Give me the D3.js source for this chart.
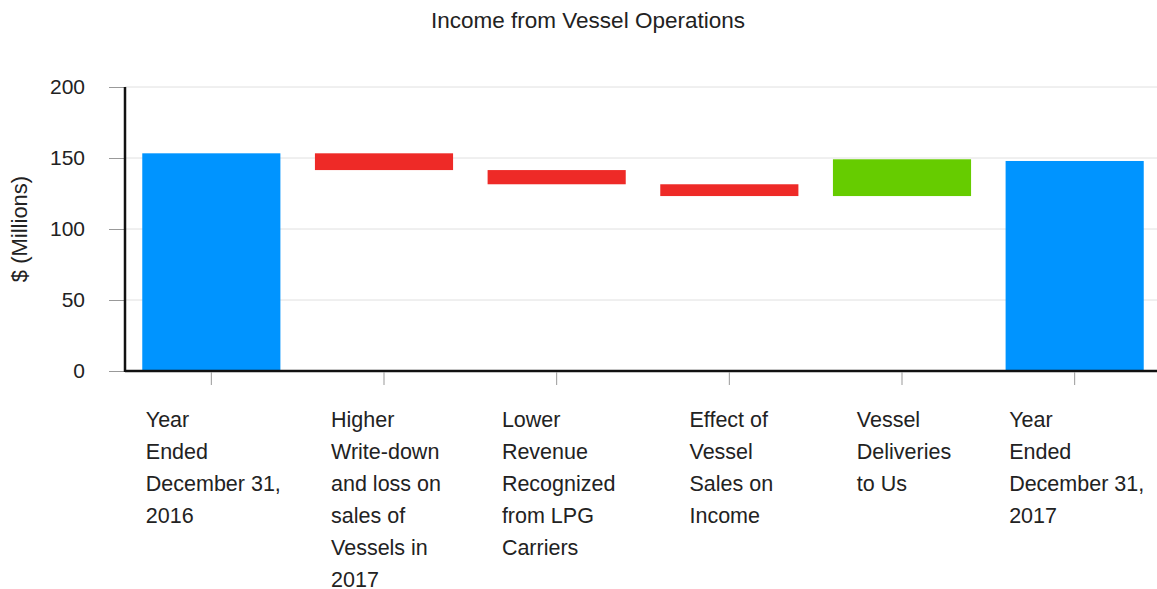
<!DOCTYPE html>
<html>
<head>
<meta charset="utf-8">
<script src="https://cdn.jsdelivr.net/npm/d3@7"></script>
<style>
  body { margin: 0; background: #fff; }
  text { font-family: "Liberation Sans", Arial, sans-serif; fill: #222; }
</style>
</head>
<body>
<div id="chart"></div>
<script>
const categories = [
    "Year Ended December 31, 2016",
    "Higher Write-down and loss on sales of Vessels in 2017",
    "Lower Revenue Recognized from LPG Carriers",
    "Effect of Vessel Sales on Income",
    "Vessel Deliveries to Us",
    "Year Ended December 31, 2017"
];
const tickLines = [
    ["Year", "Ended", "December 31,", "2016"],
    ["Higher", "Write-down", "and loss on", "sales of", "Vessels in", "2017"],
    ["Lower", "Revenue", "Recognized", "from LPG", "Carriers"],
    ["Effect of", "Vessel", "Sales on", "Income"],
    ["Vessel", "Deliveries", "to Us"],
    ["Year", "Ended", "December 31,", "2017"]
];
// "total" bars start at zero, "delta" bars float from the running total
const kinds = ["total", "delta", "delta", "delta", "delta", "total"];
const values = [153.3, -11.8, -10.0, -8.3, 25.9, 147.9];
const yTicks = [0, 50, 100, 150, 200];

const width = 1157, height = 589;
const margin = { top: 87, right: -4, bottom: 218, left: 125 };

const svg = d3.select("#chart").append("svg")
    .attr("width", width)
    .attr("height", height);

const x = d3.scaleBand()
    .domain(categories)
    .range([margin.left, width - margin.right])
    .paddingInner(0.2)
    .paddingOuter(0.1);

const y = d3.scaleLinear()
    .domain([0, 200])
    .range([height - margin.bottom, margin.top]);

// running totals
let run = 0;
const bars = categories.map((c, i) => {
    let y0, y1, color;
    if (kinds[i] === "total") {
        y0 = 0; y1 = values[i]; run = values[i]; color = "#0094ff";
    } else {
        y0 = run; y1 = run + values[i]; run = y1;
        color = values[i] < 0 ? "#ee2a27" : "#66cc00";
    }
    return { c, lo: Math.min(y0, y1), hi: Math.max(y0, y1), color };
});

// gridlines
svg.append("g")
    .selectAll("line")
    .data(yTicks.slice(1))
    .join("line")
    .attr("x1", margin.left)
    .attr("x2", width)
    .attr("y1", d => y(d))
    .attr("y2", d => y(d))
    .attr("stroke", "#e0e0e0");

// y axis
const yAxis = svg.append("g")
    .attr("transform", `translate(${margin.left},0)`)
    .call(d3.axisLeft(y).tickValues(yTicks).tickSize(16).tickPadding(24));
yAxis.select(".domain").remove();
yAxis.selectAll(".tick line").attr("stroke", "#999");
yAxis.selectAll(".tick text")
    .style("font-size", "21px")
    .attr("fill", "#222");

// bars
svg.append("g")
    .selectAll("rect")
    .data(bars)
    .join("rect")
    .attr("x", d => x(d.c))
    .attr("width", x.bandwidth())
    .attr("y", d => y(d.hi))
    .attr("height", d => y(d.lo) - y(d.hi))
    .attr("fill", d => d.color);

// axis lines
svg.append("line")
    .attr("x1", margin.left).attr("x2", margin.left)
    .attr("y1", y(200)).attr("y2", y(0) + 1)
    .attr("stroke", "#111").attr("stroke-width", 2.5);
svg.append("line")
    .attr("x1", margin.left).attr("x2", width)
    .attr("y1", y(0)).attr("y2", y(0))
    .attr("stroke", "#111").attr("stroke-width", 2.5);

// x ticks
svg.append("g")
    .selectAll("line")
    .data(categories)
    .join("line")
    .attr("x1", d => x(d) + x.bandwidth() / 2)
    .attr("x2", d => x(d) + x.bandwidth() / 2)
    .attr("y1", y(0) + 1)
    .attr("y2", y(0) + 14)
    .attr("stroke", "#999");

// x labels: block centered on tick, lines left-aligned
const labels = svg.append("g")
    .selectAll("text")
    .data(categories)
    .join("text")
    .attr("y", 427)
    .style("font-size", "21.5px");
labels.each(function(d, i) {
    const t = d3.select(this);
    tickLines[i].forEach((line, j) => {
        t.append("tspan").attr("x", 0).attr("dy", j === 0 ? 0 : 32).text(line);
    });
    const w = this.getBBox().width;
    const left = x(d) + x.bandwidth() / 2 - w / 2 + 2;
    t.selectAll("tspan").attr("x", left);
});

// y title
svg.append("text")
    .attr("transform", `translate(27,${(y(0) + y(200)) / 2}) rotate(-90)`)
    .attr("text-anchor", "middle")
    .style("font-size", "22px")
    .text("$ (Millions)");

// title
svg.append("text")
    .attr("x", 588)
    .attr("y", 28)
    .attr("text-anchor", "middle")
    .style("font-size", "22.5px")
    .text("Income from Vessel Operations");
</script>
</body>
</html>
